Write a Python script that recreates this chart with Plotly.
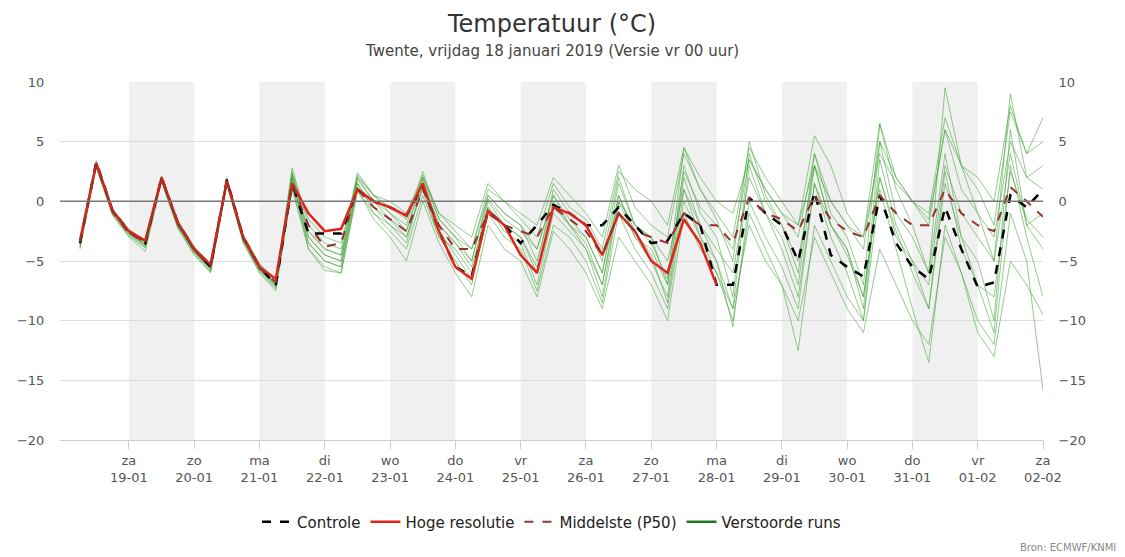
import plotly.graph_objects as go
import pandas as pd

times = pd.date_range("2019-01-18 06:00", "2019-02-02 00:00", freq="6h")

controle = [-3.5,3.3,-0.8, -2.5,-3.5,2.0,-1.8, -4.0,-5.5,1.8,-3.0, -5.5,-7.0,1.5,-2.7,
            -2.7,-2.7,1.0,0.0, -0.5,-1.2,1.3,-2.5, -5.5,-6.3,-0.8,-2.0, -3.5,-2.0,-0.3,-1.0,
            -2.0,-2.0,-0.5,-2.0, -3.5,-3.3,-1.0,-2.0, -7.0,-7.0,0.3,-1.0, -2.0,-5.0,0.8,-4.5,
            -5.5,-6.3,0.5,-3.5, -5.5,-6.5,-0.5,-4.0, -7.2,-6.8,0.5,-0.5, 1.0]
hoge_res = [-3.3,3.2,-0.8, -2.5,-3.3,2.0,-1.8, -4.0,-5.3,1.7,-3.0, -5.5,-6.5,1.5,-1.0,
            -2.5,-2.3,1.0,0.0, -0.5,-1.2,1.5,-2.5, -5.5,-6.5,-0.8,-2.0, -4.5,-6.0,-0.5,-1.0,
            -2.0,-4.5,-1.0,-2.5, -5.0,-6.0,-1.5,-3.5, -7.0]
p50 = [-3.4,3.1,-0.9, -2.7,-3.4,1.9,-1.9, -4.1,-5.5,1.7,-3.1, -5.6,-6.8,1.5,-2.0,
       -3.8,-3.5,1.0,-0.5, -1.5,-2.5,1.0,-2.0, -4.0,-4.0,-1.0,-2.0, -2.5,-3.0,-0.5,-1.5,
       -2.5,-4.5,-1.0,-2.5, -3.0,-3.5,-1.0,-2.0, -2.0,-3.5,0.3,-1.0, -1.5,-2.5,0.5,-1.5,
       -2.5,-3.0,0.5,-1.0, -2.0,-2.0,1.0,-1.0, -2.0,-2.5,1.2,0.0, -1.3]

members = [
 [-3.8,3.0,-1.0, -2.8,-3.8,1.8,-2.0, -4.3,-5.8,1.5,-3.2, -5.8,-7.2,2.5,-3.0, -4.5,-5.0,2.2,0.5, -1.0,-2.0,2.5,-1.5, -3.0,-4.0,0.5,-1.0, -2.0,-5.0,0.0,-2.0, -3.0,-6.0,0.5,-3.0, -4.0,-7.0,3.0,-1.0, -3.0,-8.0,4.0,0.0, -2.0,-5.0,3.0,-2.0, -4.0,-9.0,5.0,-1.0, -3.0,-6.0,4.0,-3.0, -5.0,-10.0,6.0,-2.0, -1.0],
 [-4.0,2.8,-1.2, -3.0,-4.2,1.6,-2.3, -4.5,-6.0,1.4,-3.5, -6.0,-7.5,1.0,-4.0, -5.5,-6.0,0.8,-1.0, -2.5,-4.0,0.5,-3.0, -5.0,-7.0,-1.0,-3.0, -4.0,-7.5,-2.0,-3.0, -5.0,-8.5,-1.0,-4.0, -6.0,-9.0,0.0,-3.0, -6.0,-10.0,-1.0,-4.0, -7.0,-12.5,-2.0,-5.0, -8.0,-10.0,1.0,-4.0, -9.0,-13.5,-2.0,-6.0, -10.0,-12.0,-1.0,-5.0, -15.8],
 [-3.2,3.4,-0.6, -2.4,-3.2,2.1,-1.6, -3.8,-5.2,2.0,-2.8, -5.2,-6.6,2.8,-2.0, -3.5,-4.0,2.4,0.5, 0.0,-1.0,2.2,-1.0, -2.0,-3.0,1.5,0.0, -1.0,-2.0,2.0,0.5, -1.0,-3.0,3.0,-0.5, -2.0,-3.0,4.0,1.0, -1.0,-3.0,4.5,2.0, 0.0,-2.0,5.5,3.0, -1.0,-3.0,6.5,2.0, 0.0,-1.0,7.0,3.0, 1.0,-2.0,7.5,4.0, 5.0],
 [-3.6,3.1,-0.9, -2.6,-3.6,1.9,-2.1, -4.2,-5.6,1.6,-3.3, -5.7,-7.0,2.0,-3.5, -5.0,-5.5,1.5,-1.0, -2.0,-3.0,1.0,-3.0, -4.0,-6.0,0.0,-2.0, -3.0,-5.5,1.0,-1.0, -2.0,-5.0,2.0,-2.0, -3.0,-5.0,1.0,-2.0, -4.0,-6.0,2.0,-1.0, -3.0,-7.0,3.0,-2.0, -4.0,-8.0,2.0,-3.0, -5.0,-7.0,3.0,-1.0, -3.0,-5.0,4.0,-2.0, -4.0],
 [-3.4,3.3,-0.7, -2.5,-3.4,2.0,-1.8, -4.0,-5.4,1.8,-3.0, -5.4,-6.8,2.2,-2.5, -4.0,-4.5,1.8,0.0, -1.5,-2.5,1.8,-2.0, -3.5,-5.0,0.2,-1.5, -2.5,-4.0,0.5,-2.0, -4.0,-7.0,0.0,-3.0, -5.0,-8.0,2.0,-2.0, -5.0,-9.0,3.0,-1.0, -4.0,-8.0,1.5,-3.0, -6.0,-10.0,3.5,-2.0, -5.0,-9.0,2.5,-4.0, -7.0,-11.0,3.0,-3.0, -8.0],
 [-3.9,2.9,-1.1, -2.9,-3.9,1.7,-2.2, -4.4,-5.9,1.5,-3.4, -5.9,-7.3,1.2,-3.5, -5.0,-5.5,1.2,-0.5, -2.0,-3.5,1.5,-2.5, -4.5,-6.5,-0.5,-2.5, -3.5,-7.0,-1.0,-2.5, -4.0,-8.0,0.0,-2.0, -3.0,-7.0,2.5,-0.5, -2.0,-4.0,3.5,1.0, -1.0,-3.0,4.0,0.0, -2.0,-4.0,5.0,2.0, 0.0,-2.0,6.0,1.0, -1.0,-3.0,5.0,2.0, 3.0],
 [-3.5,3.2,-0.8, -2.6,-3.5,2.0,-1.9, -4.1,-5.5,1.8,-3.1, -5.5,-6.9,2.3,-1.5, -3.0,-3.5,2.0,0.5, -0.5,-1.5,2.0,-1.0, -2.5,-4.0,1.0,0.0, -1.5,-3.0,1.5,-0.5, -1.5,-4.0,2.5,1.0, 0.0,-2.0,4.5,2.0, 0.0,-1.0,3.5,1.0, -1.0,-2.0,3.0,0.0, -2.0,-3.0,4.0,1.5, 0.0,-1.5,6.0,3.0, 2.0,0.0,8.0,4.0, 7.0],
 [-3.7,3.0,-1.0, -2.7,-3.7,1.8,-2.0, -4.2,-5.7,1.6,-3.2, -5.7,-7.1,1.8,-4.0, -5.8,-6.0,1.0,-1.5, -3.0,-5.0,0.0,-3.5, -6.0,-8.0,-2.0,-4.0, -5.0,-8.0,-2.5,-4.0, -6.0,-9.0,-3.0,-5.0, -7.0,-10.0,-1.0,-4.0, -6.0,-9.0,-2.0,-5.0, -7.0,-10.0,-3.0,-6.0, -9.0,-11.0,-4.0,-7.0, -10.0,-12.0,-3.0,-6.0, -11.0,-13.0,-5.0,-7.0, -9.5],
 [-3.3,3.3,-0.7, -2.4,-3.3,2.1,-1.7, -3.9,-5.3,1.9,-2.9, -5.3,-6.7,2.0,-2.5, -4.0,-4.5,2.0,0.0, -1.0,-2.5,2.0,-1.5, -3.0,-5.0,0.5,-1.0, -2.0,-4.0,0.5,-1.5, -3.0,-6.0,1.5,-2.0, -3.5,-6.5,4.5,1.0, -1.5,-5.0,5.0,0.5, -2.0,-6.0,4.0,-1.0, -3.0,-7.0,6.5,1.0, -2.0,-6.0,9.5,3.0, -1.0,-5.0,9.0,2.0, 1.0],
 [-3.6,3.1,-0.9, -2.7,-3.6,1.9,-2.0, -4.2,-5.6,1.7,-3.1, -5.6,-7.0,1.6,-3.0, -4.5,-5.0,1.5,-0.5, -1.5,-3.0,1.2,-2.0, -3.5,-5.5,-0.5,-2.0, -3.0,-6.0,-0.5,-2.0, -3.5,-7.0,0.5,-2.5, -4.5,-8.5,1.0,-3.0, -5.0,-10.5,0.0,-3.0, -5.5,-9.0,1.5,-2.0, -4.5,-8.0,2.0,-2.5, -6.0,-9.0,1.5,-3.0, -7.0,-8.0,2.5,-1.5, -3.0],
]

day_names = ["za","zo","ma","di","wo","do","vr","za","zo","ma","di","wo","do","vr","za"]
tick_dates = pd.date_range("2019-01-19", "2019-02-02", freq="D")
tick_text = [f"{d}<br>{t.strftime('%d-%m')}" for d, t in zip(day_names, tick_dates)]

fig = go.Figure()
for i, m in enumerate(members):
    fig.add_trace(go.Scatter(x=times[:len(m)], y=m, mode="lines", showlegend=False,
                             line=dict(color="rgba(60,160,50,0.55)", width=1), hoverinfo="skip"))
fig.add_trace(go.Scatter(x=times[:len(controle)], y=controle, mode="lines", name="Controle",
                         line=dict(color="black", width=2.5, dash="dash")))
fig.add_trace(go.Scatter(x=times[:len(hoge_res)], y=hoge_res, mode="lines", name="Hoge resolutie",
                         line=dict(color="#e0241b", width=2.5)))
fig.add_trace(go.Scatter(x=times[:len(p50)], y=p50, mode="lines", name="Middelste (P50)",
                         line=dict(color="#9b3030", width=2, dash="dash")))
fig.add_trace(go.Scatter(x=[None], y=[None], mode="lines", name="Verstoorde runs",
                         line=dict(color="#1f7a1f", width=2.5)))
fig.add_trace(go.Scatter(x=times[:1], y=[0], yaxis="y2", mode="lines", showlegend=False,
                         line=dict(width=0), hoverinfo="skip"))

shapes = []
for k in range(1, 16, 2):
    d0 = pd.Timestamp("2019-01-18") + pd.Timedelta(days=k)
    shapes.append(dict(type="rect", xref="x", yref="paper", x0=d0, x1=min(d0 + pd.Timedelta(days=1), pd.Timestamp("2019-02-02")),
                       y0=0, y1=1, fillcolor="#f0f0f0", line_width=0, layer="below"))
shapes.append(dict(type="line", xref="paper", yref="y", x0=0, x1=1, y0=0, y1=0,
                   line=dict(color="#777", width=1.5)))

yax = dict(range=[-20, 10], tickvals=[-20, -15, -10, -5, 0, 5, 10], showgrid=True,
           gridcolor="#dcdcdc", zeroline=False, tickfont=dict(size=13, color="#555"),
           fixedrange=True, automargin=False, ticklen=12, ticks="outside", tickcolor="rgba(0,0,0,0)")
fig.update_layout(
    width=1125, height=557, plot_bgcolor="white", paper_bgcolor="white",
    font=dict(family="DejaVu Sans", color="#444"),
    margin=dict(l=52, r=90, t=74, b=125),
    xaxis=dict(range=[pd.Timestamp("2019-01-17 22:40"), pd.Timestamp("2019-02-02 00:00")],
               tickvals=tick_dates, ticktext=tick_text, showgrid=False, ticks="outside",
               ticklen=8, tickcolor="#ccc", showline=True, linecolor="#ccc", automargin=False,
               tickfont=dict(size=13, color="#555")),
    yaxis=yax,
    yaxis2=dict(yax, overlaying="y", side="right", showgrid=False),
    shapes=shapes,
    legend=dict(orientation="h", x=0.5, xanchor="center", y=-0.229, yanchor="middle",
                font=dict(size=15, color="#222")),
    annotations=[
        dict(text="Temperatuur (°C)", xref="paper", yref="paper", x=0.5, y=1.0, yshift=58,
             xanchor="center", yanchor="middle", showarrow=False, font=dict(size=24, color="#333")),
        dict(text="Twente, vrijdag 18 januari 2019 (Versie vr 00 uur)", xref="paper", yref="paper",
             x=0.5, y=1.0, yshift=31, xanchor="center", yanchor="middle", showarrow=False,
             font=dict(size=15, color="#444")),
        dict(text="Bron: ECMWF/KNMI", xref="paper", yref="paper", x=1.076, y=-0.28,
             xanchor="right", yanchor="top", showarrow=False, font=dict(size=10, color="#888"))],
)
fig.write_html("out.html")
